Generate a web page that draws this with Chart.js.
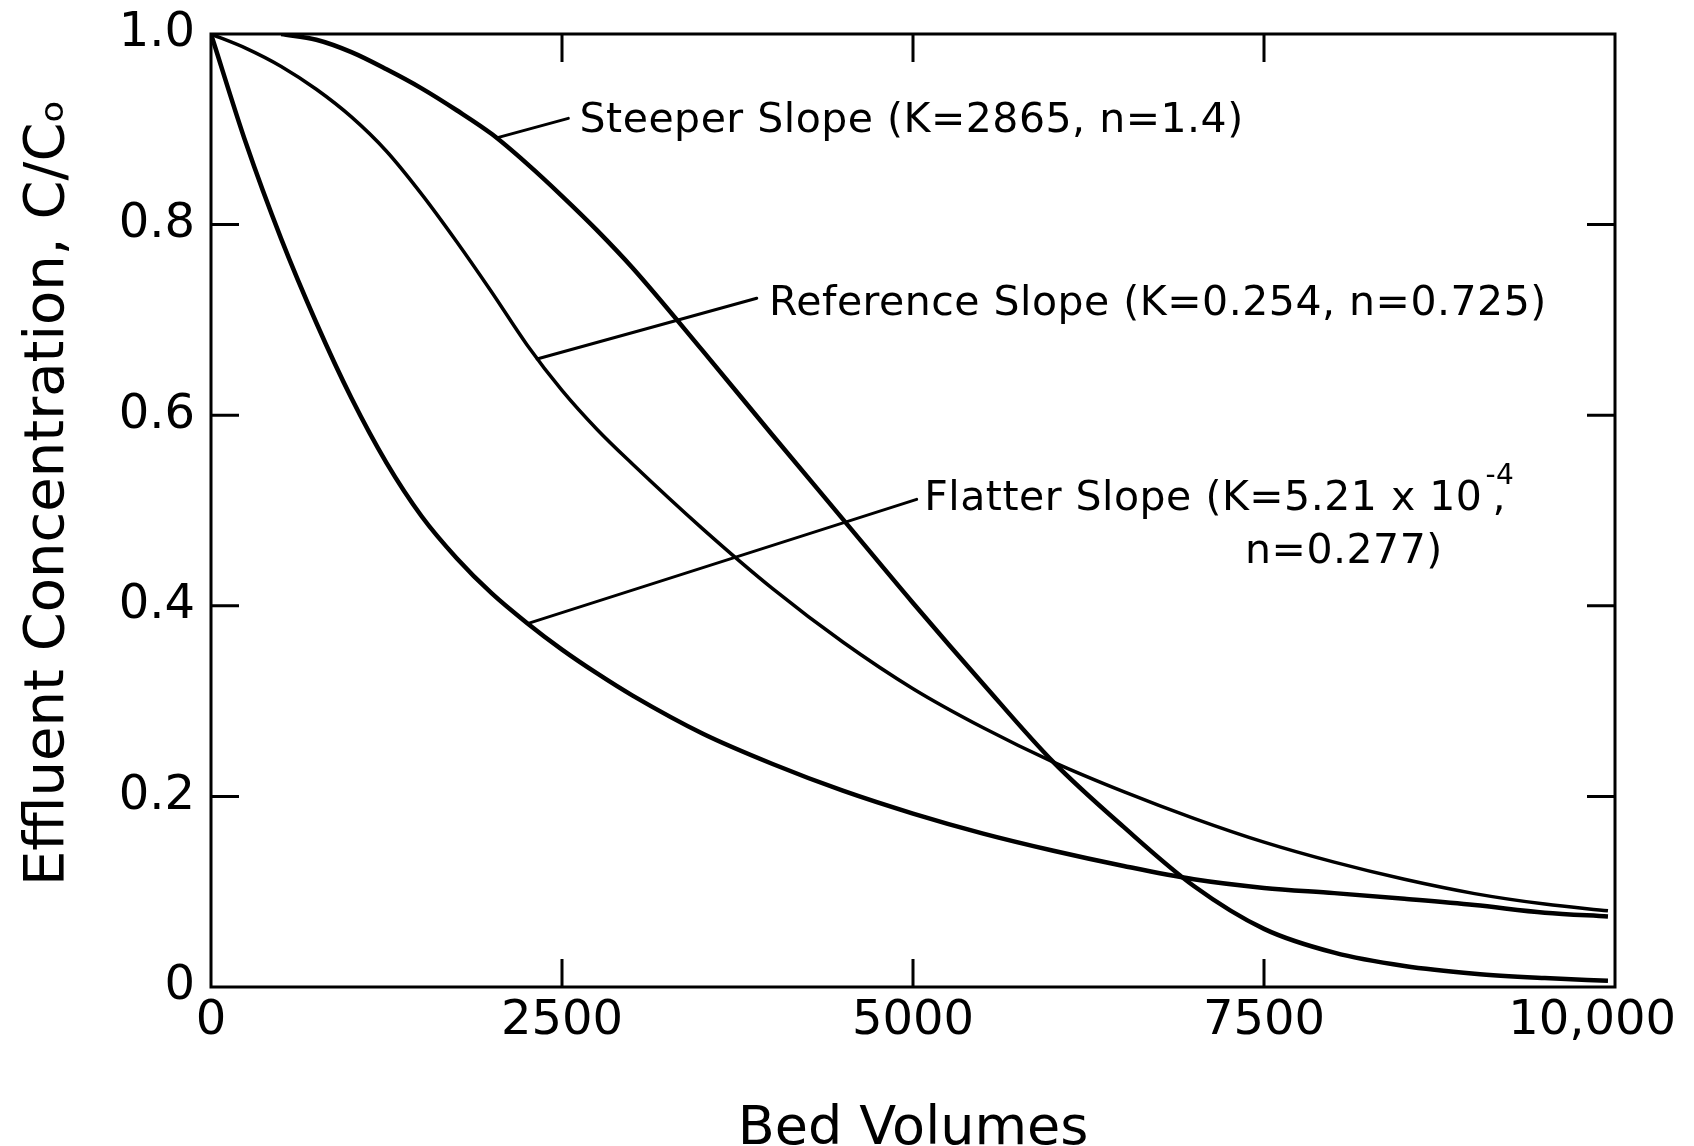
<!DOCTYPE html>
<html lang="en">
<head>
<meta charset="UTF-8">
<title>Effluent Concentration vs Bed Volumes</title>
<script src="https://cdn.jsdelivr.net/npm/chart.js@4.4.0/dist/chart.umd.min.js"></script>
<style>
    html, body { margin: 0; padding: 0; background: #fff; }
</style>
</head>
<body>
<canvas id="breakthrough" width="1694" height="1146"></canvas>

<script>
// ***********
// Breakthrough curves
// ***********

// Bed volumes where the curves were sampled
var bedVolumes = [0, 250, 500, 750, 1000, 1250, 1500, 1750, 2000, 2250, 2500, 2750, 3000, 3500, 4000, 4500, 5000, 5500, 6000, 6500, 7000, 7500, 8000, 8500, 9000, 9500, 9950];

// C/Co for each curve (null = curve still on the top edge)
var steeperSlope   = [null, null, 1.0, 0.994, 0.981, 0.963, 0.943, 0.920, 0.895, 0.864, 0.830, 0.794, 0.755, 0.668, 0.579, 0.491, 0.403, 0.318, 0.236, 0.168, 0.106, 0.061, 0.036, 0.022, 0.014, 0.0094, 0.0065];
var referenceSlope = [1.0, 0.985, 0.966, 0.942, 0.913, 0.877, 0.832, 0.782, 0.729, 0.674, 0.626, 0.585, 0.549, 0.481, 0.418, 0.362, 0.313, 0.272, 0.236, 0.205, 0.177, 0.152, 0.131, 0.113, 0.098, 0.087, 0.080];
var flatterSlope   = [1.0, 0.885, 0.785, 0.697, 0.618, 0.550, 0.494, 0.450, 0.413, 0.382, 0.354, 0.329, 0.306, 0.266, 0.234, 0.206, 0.182, 0.161, 0.143, 0.127, 0.113, 0.104, 0.0985, 0.0925, 0.086, 0.078, 0.074];

// Axis ticks
var xTicks = [0, 2500, 5000, 7500, 10000];
var xTickLabels = ['0', '2500', '5000', '7500', '10,000\u2007 '];
var yTicks = [0, 0.2, 0.4, 0.6, 0.8, 1.0];
var yTickLabels = ['0', '0.2', '0.4', '0.6', '0.8', '1.0'];

// Curve labels with their leader lines (data units)
var notes = [
    {from: [2035, 0.891], to: [2545, 0.9115], at: [2625, 0.8975], text: 'Steeper Slope (K=2865, n=1.4)'},
    {from: [2322, 0.659], to: [3887, 0.7227], at: [3975, 0.705], text: 'Reference Slope (K=0.254, n=0.725)'},
    {from: [2260, 0.3816], to: [5026, 0.5117], at: [5080, 0.5005], text: 'Flatter Slope (K=5.21 x 10', sup: '-4', tail: ',',
        line2: 'n=0.277)', at2: [7365, 0.445]}
];

var FONT = '"DejaVu Sans", "Liberation Sans", sans-serif';
Chart.defaults.font.family = FONT;
Chart.defaults.color = '#000';


// Turn the parallel arrays into {x, y} points
function toPoints(values) {
    var pts = [];
    for (var i = 0; i < bedVolumes.length; i++) {
        if (values[i] !== null) { pts.push({x: bedVolumes[i], y: values[i]}); }
    }
    return pts;
} // END: toPoints

function curve(label, values, width) {
    return {
        label: label,
        data: toPoints(values),
        borderColor: '#000',
        borderWidth: width,
        pointRadius: 0,
        cubicInterpolationMode: 'monotone',
        fill: false
    };
} // END: curve


// Frame, inward tick marks and the leader-line labels
var frameAndNotes = {
    id: 'frameAndNotes',
    afterDatasetsDraw: function(chart) {
        var ctx = chart.ctx, a = chart.chartArea;
        var xs = chart.scales.x, ys = chart.scales.y;
        var tickLen = 28;

        ctx.save();
        ctx.strokeStyle = '#000';
        ctx.lineWidth = 3;
        ctx.strokeRect(a.left, a.top, a.right - a.left, a.bottom - a.top);

        ctx.beginPath();
        xTicks.forEach(function(v) {
            if (v === xs.min || v === xs.max) { return; }
            var px = xs.getPixelForValue(v);
            ctx.moveTo(px, a.bottom); ctx.lineTo(px, a.bottom - tickLen);
            ctx.moveTo(px, a.top);    ctx.lineTo(px, a.top + tickLen);
        });
        yTicks.forEach(function(v) {
            if (v === ys.min || v === ys.max) { return; }
            var py = ys.getPixelForValue(v);
            ctx.moveTo(a.left, py);  ctx.lineTo(a.left + tickLen, py);
            ctx.moveTo(a.right, py); ctx.lineTo(a.right - tickLen, py);
        });
        ctx.stroke();

        // leader lines
        ctx.lineCap = 'round';
        notes.forEach(function(n) {
            ctx.beginPath();
            ctx.moveTo(xs.getPixelForValue(n.from[0]), ys.getPixelForValue(n.from[1]));
            ctx.lineTo(xs.getPixelForValue(n.to[0]), ys.getPixelForValue(n.to[1]));
            ctx.stroke();
        });

        // label text
        ctx.fillStyle = '#000';
        ctx.textAlign = 'left';
        ctx.textBaseline = 'alphabetic';
        ctx.letterSpacing = '0.5px';
        notes.forEach(function(n) {
            var tx = xs.getPixelForValue(n.at[0]), ty = ys.getPixelForValue(n.at[1]);
            ctx.font = '41px ' + FONT;
            ctx.fillText(n.text, tx, ty);
            if (n.sup) {
                var w = ctx.measureText(n.text).width;
                ctx.fillText(n.tail, tx + w + 10, ty);
                ctx.font = '28px ' + FONT;
                ctx.fillText(n.sup, tx + w + 3, ty - 26);
            }
            if (n.line2) {
                ctx.font = '41px ' + FONT;
                ctx.fillText(n.line2, xs.getPixelForValue(n.at2[0]), ys.getPixelForValue(n.at2[1]));
            }
        });
        ctx.letterSpacing = '0px';
        ctx.restore();
    }
}; // END: frameAndNotes


// ******************
// Build the chart
// ******************
var chart = new Chart(document.getElementById('breakthrough'), {
    type: 'line',
    data: {
        datasets: [
            curve('Steeper Slope', steeperSlope, 4.5),
            curve('Reference Slope', referenceSlope, 3.5),
            curve('Flatter Slope', flatterSlope, 4.5)
        ]
    },
    options: {
        responsive: false,
        animation: false,
        layout: {padding: {top: 34, right: 79, left: 0, bottom: 0}},
        plugins: {
            legend: {display: false},
            tooltip: {enabled: false}
        },
        scales: {
            x: {
                type: 'linear',
                min: 0,
                max: 10000,
                grid: {display: false, drawTicks: false},
                border: {display: false},
                afterBuildTicks: function(s) { s.ticks = xTicks.map(function(v) { return {value: v}; }); },
                ticks: {
                    font: {size: 48},
                    padding: 6,
                    maxRotation: 0,
                    autoSkip: false,
                    callback: function(v) { return xTickLabels[xTicks.indexOf(v)]; }
                },
                title: {
                    display: true,
                    text: 'Bed Volumes',
                    font: {size: 54, lineHeight: 0.58},
                    padding: {top: 0, bottom: 0}
                },
                afterFit: function(s) { s.height = 159; s.paddingLeft = 0; s.paddingRight = 0; }
            },
            y: {
                type: 'linear',
                min: 0,
                max: 1,
                grid: {display: false, drawTicks: false},
                border: {display: false},
                afterBuildTicks: function(s) { s.ticks = yTicks.map(function(v) { return {value: v}; }); },
                ticks: {
                    font: {size: 48},
                    padding: 16,
                    autoSkip: false,
                    callback: function(v) { return yTickLabels[yTicks.indexOf(v)]; }
                },
                title: {
                    display: true,
                    text: '\u2007Effluent Concentration, C/C\u2092',
                    font: {size: 56, lineHeight: 1},
                    padding: {top: 20, bottom: 0}
                },
                afterFit: function(s) { s.width = 211; s.paddingTop = 0; s.paddingBottom = 0; }
            }
        }
    },
    plugins: [frameAndNotes]
});
</script>
</body>
</html>
